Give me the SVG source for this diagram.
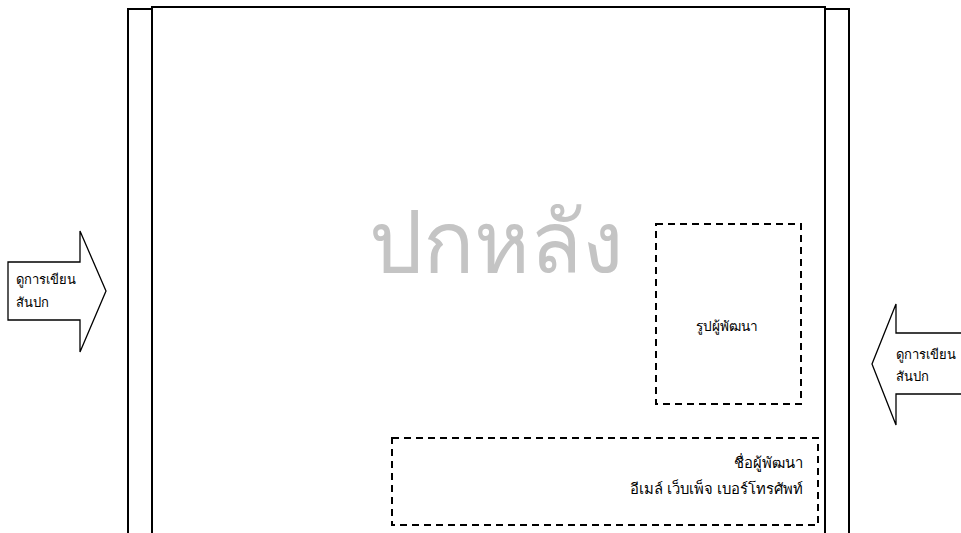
<svg xmlns="http://www.w3.org/2000/svg" width="961" height="533" viewBox="0 0 961 533">
<style>
.frame{fill:none;stroke:#000;stroke-width:2}
.dash{fill:none;stroke:#000;stroke-width:2;stroke-dasharray:7 5}
.arrow{fill:#fff;stroke:#000;stroke-width:1.3;stroke-linejoin:miter}
.t{font-family:"Noto Sans","DejaVu Sans",sans-serif;font-size:13px;fill:#000}
.title{font-family:"Noto Sans","DejaVu Sans",sans-serif;font-size:85px;fill:#c4c4c4}
</style>
<rect width="961" height="533" fill="#fff"/>
<g id="cover">
<polyline class="frame" points="128,533 128,9 152,9"/>
<polyline class="frame" points="152,533 152,7 825,7 825,533"/>
<polyline class="frame" points="825,9 849,9 849,533"/>
<text class="title" x="496" y="272" text-anchor="middle">ปกหลัง</text>
</g>
<g id="photo">
<rect class="dash" x="656" y="224" width="145" height="180"/>
<text class="t" x="727" y="331" text-anchor="middle" style="font-size:13.7px">รูปผู้พัฒนา</text>
</g>
<g id="info">
<rect class="dash" x="392" y="438" width="426" height="87"/>
<text class="t" x="803" y="468" text-anchor="end" style="font-size:14.8px">ชื่อผู้พัฒนา</text>
<text class="t" x="803" y="494" text-anchor="end" style="font-size:14.8px">อีเมล์ เว็บเพ็จ เบอร์โทรศัพท์</text>
</g>
<g id="arrow-left">
<polygon class="arrow" points="8,262 80,262 80,231 106,291 80,352 80,320 8,320"/>
<text class="t" x="16" y="284">ดูการเขียน</text>
<text class="t" x="16" y="307">สันปก</text>
</g>
<g id="arrow-right">
<polygon class="arrow" points="962,333 896,333 896,304 872,364 896,425 896,394 962,394"/>
<text class="t" x="896" y="359">ดูการเขียน</text>
<text class="t" x="896" y="381">สันปก</text>
</g>
</svg>
